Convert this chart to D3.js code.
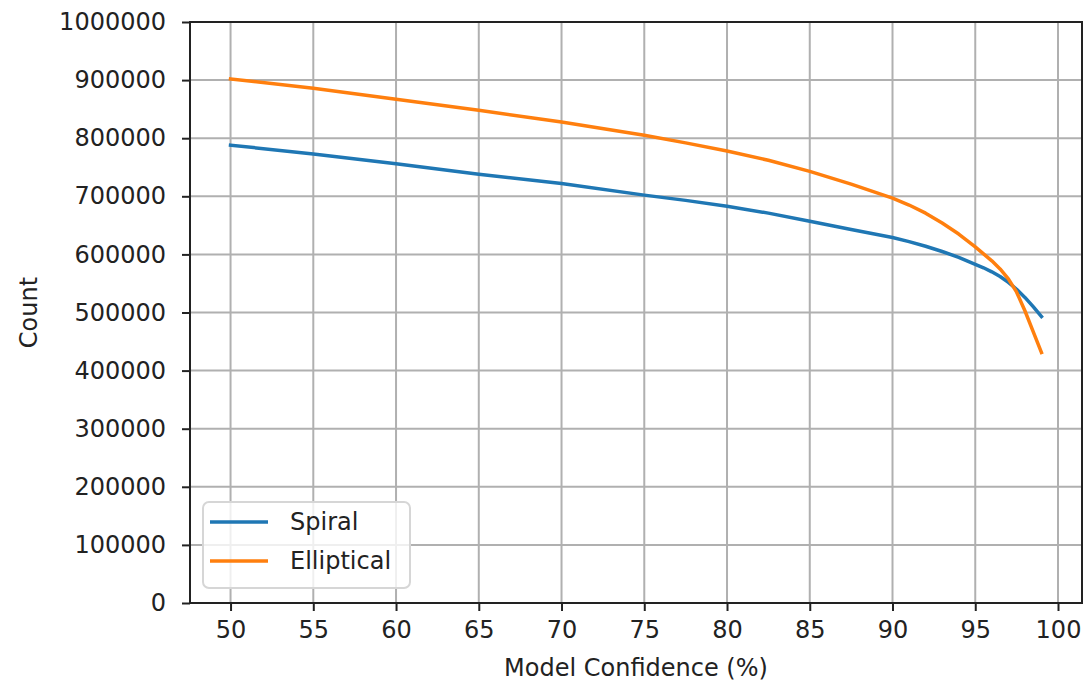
<!DOCTYPE html>
<html>
<head>
<meta charset="utf-8">
<script src="https://cdn.jsdelivr.net/npm/d3@7"></script>
<style>
  html, body { margin: 0; padding: 0; background: #fff; }
  svg { display: block; font-family: "DejaVu Sans", sans-serif; }
</style>
</head>
<body>
<div id="chart"></div>
<script>
// Model confidence thresholds (%) and counts
const confidence = [50, 55, 60, 65, 70, 75, 77.5, 80, 82.5, 85, 87.5, 90, 91, 92, 93, 94, 95, 95.5, 96, 96.5, 97, 97.5, 98, 98.5, 99];
const spiral     = [788000, 773000, 756000, 738000, 722000, 702000, 693000, 683000, 671000, 657000, 643000, 629000, 622000, 614000, 605000, 595000, 583000, 577000, 570000, 562000, 552000, 540000, 526000, 510000, 493000];
const elliptical = [902000, 886000, 867000, 848000, 828000, 805000, 792000, 778000, 762000, 743000, 721000, 697000, 685000, 671000, 654000, 635000, 613000, 601000, 589000, 575000, 558000, 535000, 503000, 467000, 431000];
const seriesNames = ['Spiral', 'Elliptical'];
const xTicks = [50, 55, 60, 65, 70, 75, 80, 85, 90, 95, 100];
const yTicks = [0, 100000, 200000, 300000, 400000, 500000, 600000, 700000, 800000, 900000, 1000000];

const W = 1088, H = 692;
const margin = { top: 22, right: 6, bottom: 89, left: 190 };
const width = W - margin.left - margin.right;
const height = H - margin.top - margin.bottom;
const colors = ['#1f77b4', '#ff7f0e'];

const svg = d3.select('#chart').append('svg')
  .attr('width', W)
  .attr('height', H);

const g = svg.append('g')
  .attr('transform', `translate(${margin.left},${margin.top})`);

// matplotlib-style 5% padding around 50..99
const pad = (99 - 50) * 0.05;
const x = d3.scaleLinear().domain([50 - pad, 99 + pad]).range([0, width]);
const y = d3.scaleLinear().domain([0, 1000000]).range([height, 0]);

// Grid
g.append('g').selectAll('line')
  .data(xTicks).enter().append('line')
  .attr('x1', d => x(d)).attr('x2', d => x(d))
  .attr('y1', 0).attr('y2', height)
  .attr('stroke', '#b0b0b0').attr('stroke-width', 2);

g.append('g').selectAll('line')
  .data(yTicks).enter().append('line')
  .attr('x1', 0).attr('x2', width)
  .attr('y1', d => y(d)).attr('y2', d => y(d))
  .attr('stroke', '#b0b0b0').attr('stroke-width', 2);

// Series lines
const line = d3.line()
  .x((d, i) => x(confidence[i]))
  .y(d => y(d));

[spiral, elliptical].forEach((vals, k) => {
  g.append('path')
    .datum(vals)
    .attr('d', line)
    .attr('fill', 'none')
    .attr('stroke', colors[k])
    .attr('stroke-width', 3.5)
    .attr('stroke-linejoin', 'round')
    .attr('stroke-linecap', 'square');
});

// Axes
const xAxis = g.append('g')
  .attr('transform', `translate(0,${height})`)
  .call(d3.axisBottom(x).tickValues(xTicks).tickSize(8).tickPadding(10).tickSizeOuter(0));

const yAxis = g.append('g')
  .call(d3.axisLeft(y).tickValues(yTicks).tickFormat(d3.format('d')).tickSize(8).tickPadding(16).tickSizeOuter(0));

[xAxis, yAxis].forEach(a => {
  a.select('.domain').remove();
  a.selectAll('line').attr('stroke', '#222').attr('stroke-width', 2);
  a.selectAll('text')
    .style('font-family', '"DejaVu Sans", sans-serif')
    .style('font-size', '24px')
    .attr('fill', '#222');
});

// Spines
g.append('rect')
  .attr('x', 0).attr('y', 0)
  .attr('width', width).attr('height', height)
  .attr('fill', 'none')
  .attr('stroke', '#222')
  .attr('stroke-width', 2);

// Axis labels
svg.append('text')
  .attr('x', margin.left + width / 2)
  .attr('y', 676)
  .attr('text-anchor', 'middle')
  .style('font-size', '24px')
  .attr('fill', '#222')
  .text('Model Confidence (%)');

svg.append('text')
  .attr('transform', `translate(37,${margin.top + height / 2}) rotate(-90)`)
  .attr('text-anchor', 'middle')
  .style('font-size', '24px')
  .attr('fill', '#222')
  .text('Count');

// Legend
const legend = svg.append('g').attr('transform', 'translate(203,502)');
legend.append('rect')
  .attr('width', 207).attr('height', 86)
  .attr('rx', 6)
  .attr('fill', 'rgba(255,255,255,0.8)')
  .attr('stroke', '#d6d6d6')
  .attr('stroke-width', 2);

seriesNames.forEach((name, i) => {
  const ly = 20 + i * 39;
  legend.append('line')
    .attr('x1', 7).attr('x2', 65)
    .attr('y1', ly).attr('y2', ly)
    .attr('stroke', colors[i])
    .attr('stroke-width', 3.5);
  legend.append('text')
    .attr('x', 87).attr('y', ly)
    .attr('dy', '0.35em')
    .style('font-size', '24px')
    .attr('fill', '#222')
    .text(name);
});
</script>
</body>
</html>
